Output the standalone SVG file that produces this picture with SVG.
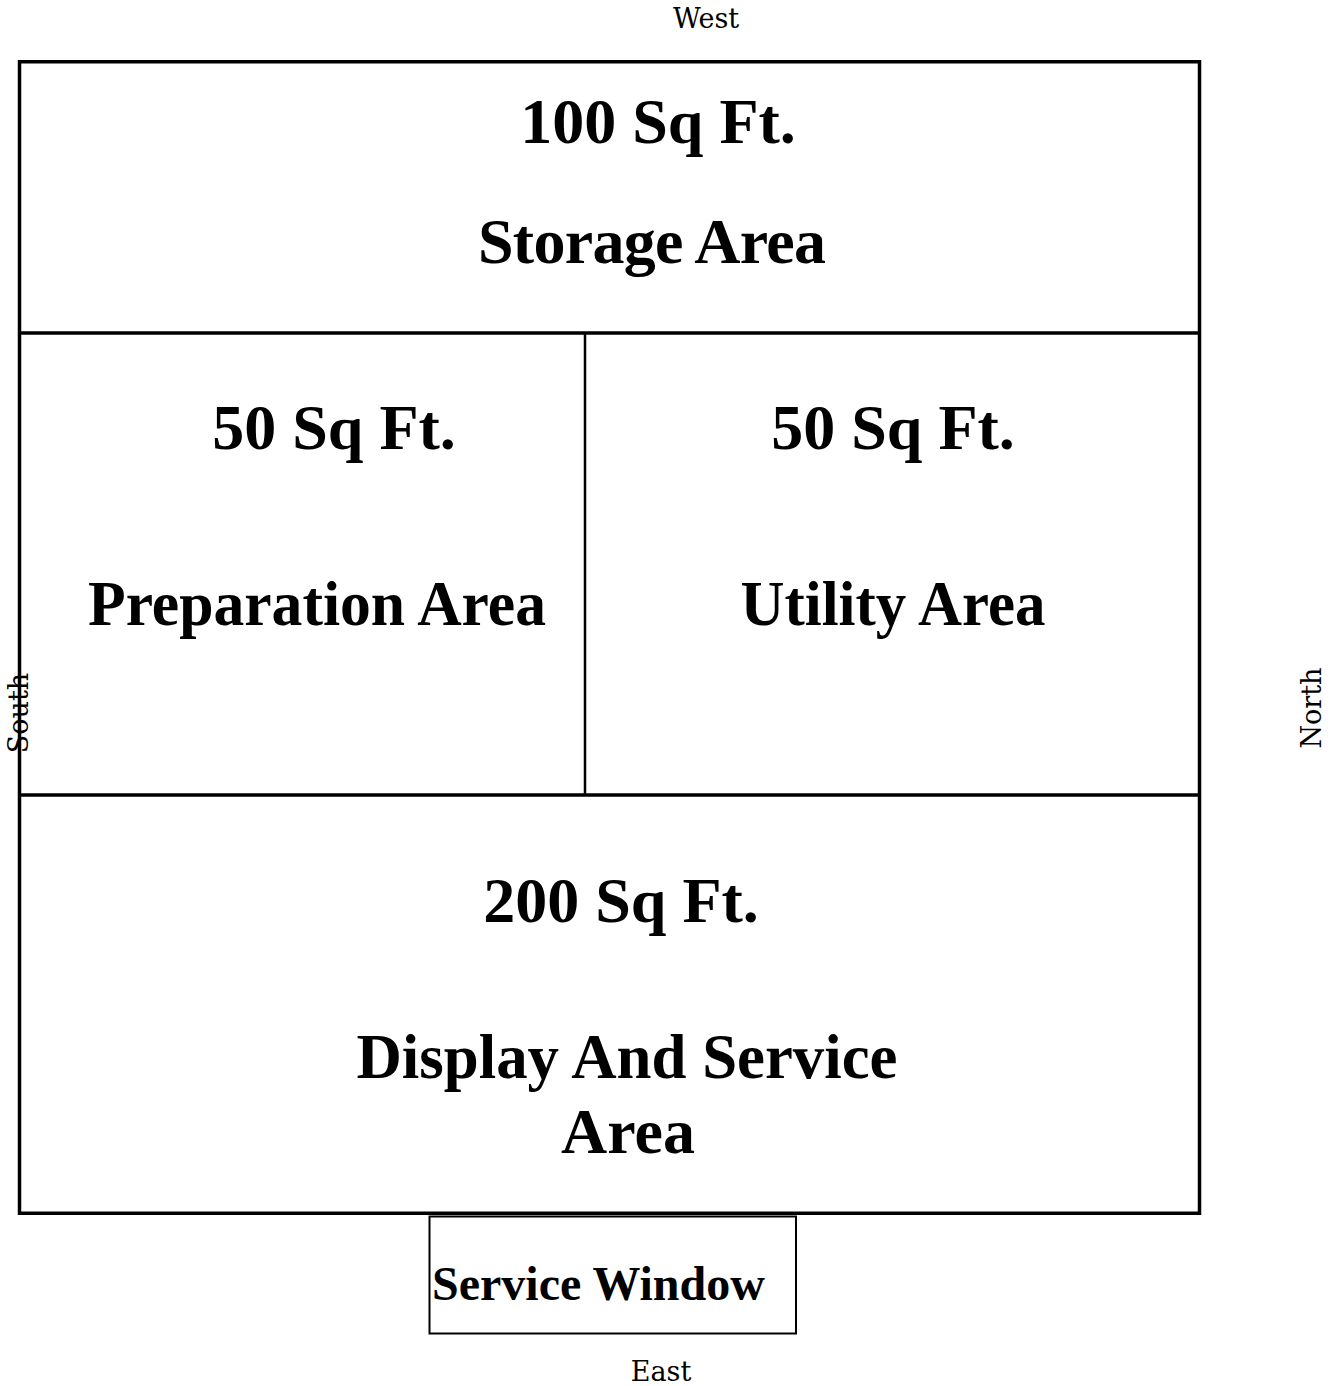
<svg xmlns="http://www.w3.org/2000/svg" width="1341" height="1386" viewBox="0 0 1341 1386">
<style>
.wall{fill:none;stroke:#000;stroke-width:3.5}
.big{font-family:"Liberation Serif","Times New Roman",serif;font-weight:bold;font-size:64px;fill:#000;text-anchor:middle}
.dir{font-family:"DejaVu Serif",serif;font-size:27px;fill:#000;text-anchor:middle}
</style>
<rect width="1341" height="1386" fill="#fff"/>
<g id="compass">
<text class="dir" x="706" y="28">West</text>
<text class="dir" x="661" y="1381">East</text>
<text class="dir" transform="translate(28,713) rotate(-90)">South</text>
<text class="dir" transform="translate(1321,708) rotate(-90)">North</text>
</g>
<g id="walls">
<rect class="wall" x="19.5" y="61.75" width="1180" height="1151.5"/>
<line class="wall" x1="19.5" y1="333" x2="1199.5" y2="333"/>
<line class="wall" x1="19.5" y1="795" x2="1199.5" y2="795"/>
<line class="wall" x1="585" y1="333" x2="585" y2="795" style="stroke-width:2.5"/>
</g>
<g id="storage">
<text class="big" x="658" y="143">100 Sq Ft.</text>
<text class="big" x="652" y="263" textLength="348" lengthAdjust="spacing">Storage Area</text>
</g>
<g id="preparation">
<text class="big" x="334" y="449">50 Sq Ft.</text>
<text class="big" x="317" y="625" textLength="458" lengthAdjust="spacingAndGlyphs">Preparation Area</text>
</g>
<g id="utility">
<text class="big" x="893" y="449">50 Sq Ft.</text>
<text class="big" x="893" y="625" textLength="305" lengthAdjust="spacingAndGlyphs">Utility Area</text>
</g>
<g id="display">
<text class="big" x="621" y="922">200 Sq Ft.</text>
<text class="big" x="627" y="1078" textLength="541" lengthAdjust="spacingAndGlyphs">Display And Service</text>
<text class="big" x="628" y="1153">Area</text>
</g>
<g id="service-window">
<rect x="429.5" y="1216.5" width="366.5" height="117" fill="none" stroke="#000" stroke-width="2"/>
<text x="432" y="1300" style="font-family:'Liberation Serif','Times New Roman',serif;font-weight:bold;font-size:48px">Service Window</text>
</g>
<g id="connectors"/>
</svg>
